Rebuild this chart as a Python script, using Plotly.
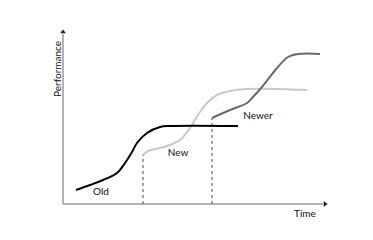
import plotly.graph_objects as go

# Data (time, performance) in arbitrary units
old_t = [13, 27, 40, 54, 62, 69, 74, 84, 97, 107, 175]
old_p = [14, 19, 24, 31, 41, 52, 61, 71, 77, 78, 78]

new_t = [80, 85, 97, 107, 117, 127, 135, 144, 154, 167, 184, 244]
new_p = [49, 53, 56, 59, 64, 76, 89, 101, 109, 113, 115, 114]

newer_t = [149, 167, 184, 190, 199, 214, 225, 235, 257]
newer_p = [86, 94, 101, 107, 117, 136, 147, 150, 150]

drop_t = [80, 149]
drop_p = [49, 86]

labels = ["Old", "New", "Newer"]
label_t = [38, 115, 195]
label_p = [12, 51, 88]

x_end = 263
y_end = 173

fig = go.Figure()

# axes
fig.add_trace(go.Scatter(x=[0, 0], y=[0, y_end - 3], mode="lines",
                         line=dict(color="#9a9a9a", width=1.5), hoverinfo="skip"))
fig.add_trace(go.Scatter(x=[0, x_end - 3], y=[0, 0], mode="lines",
                         line=dict(color="#9a9a9a", width=1.5), hoverinfo="skip"))
fig.add_trace(go.Scatter(x=[0], y=[y_end - 1], mode="markers",
                         marker=dict(symbol="triangle-up", size=5, color="#222"), hoverinfo="skip"))
fig.add_trace(go.Scatter(x=[x_end - 1], y=[0], mode="markers",
                         marker=dict(symbol="triangle-right", size=5, color="#222"), hoverinfo="skip"))

# dotted drop lines
for t, p in zip(drop_t, drop_p):
    fig.add_trace(go.Scatter(x=[t, t], y=[0, p], mode="lines",
                             line=dict(color="#444", width=1, dash="dot"), hoverinfo="skip"))

fig.add_trace(go.Scatter(x=new_t, y=new_p, mode="lines",
                         line=dict(color="#c9c9c9", width=2, shape="spline", smoothing=1)))
fig.add_trace(go.Scatter(x=newer_t, y=newer_p, mode="lines",
                         line=dict(color="#6a6a6a", width=2, shape="spline", smoothing=1)))
fig.add_trace(go.Scatter(x=old_t, y=old_p, mode="lines",
                         line=dict(color="#000000", width=2, shape="spline", smoothing=1)))

fig.add_trace(go.Scatter(x=label_t, y=label_p, mode="text", text=labels,
                         textfont=dict(family="Lato", size=10, color="#111"), hoverinfo="skip"))

fig.add_annotation(x=-6, y=135, text="Performance", textangle=-90, showarrow=False,
                   font=dict(family="Lato", size=10, color="#111"))
fig.add_annotation(x=242, y=-9, text="Time", showarrow=False,
                   font=dict(family="Lato", size=10, color="#111"))

fig.update_layout(
    width=373, height=240,
    margin=dict(l=0, r=0, t=0, b=0),
    paper_bgcolor="white", plot_bgcolor="white",
    showlegend=False,
    xaxis=dict(range=[-63, 310], visible=False, fixedrange=True),
    yaxis=dict(range=[-36, 204], visible=False, fixedrange=True),
)

fig.write_html("out.html")
